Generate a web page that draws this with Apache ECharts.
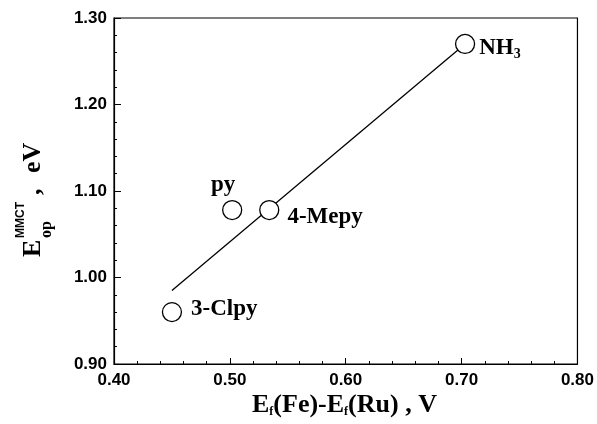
<!DOCTYPE html>
<html>
<head>
<meta charset="utf-8">
<script src="https://cdn.jsdelivr.net/npm/echarts@6/dist/echarts.min.js"></script>
<style>html,body{margin:0;padding:0;background:#fff}#c{width:597px;height:424px}</style>
</head>
<body>
<div id="c"></div>
<script>
// Data
var ligands = ['3-Clpy', 'py', '4-Mepy', 'NH3'];
var potentialDiff = [0.450, 0.502, 0.534, 0.703];   // Ef(Fe)-Ef(Ru), V
var energyMMCT = [0.960, 1.078, 1.078, 1.270];       // Eop MMCT, eV
var fitLineX = [0.450, 0.703];
var fitLineY = [0.985, 1.270];
var xTicks = [0.40, 0.50, 0.60, 0.70, 0.80];
var yTicks = [0.90, 1.00, 1.10, 1.20, 1.30];

var chart = echarts.init(document.getElementById('c'), null, {renderer: 'canvas'});

var labelCfg = {
  '3-Clpy': {position: 'right', distance: 9, offset: [0, -3]},
  'py': {position: 'top', distance: 3, offset: [-9, 0]},
  '4-Mepy': {position: 'right', distance: 8, offset: [0, 7]},
  'NH3': {position: 'right', distance: 4, offset: [0, 4]}
};

var scatterData = ligands.map(function (n, i) {
  var c = labelCfg[n];
  return {
    name: n,
    value: [potentialDiff[i], energyMMCT[i]],
    label: {
      show: true,
      position: c.position,
      distance: c.distance,
      offset: c.offset,
      formatter: n === 'NH3' ? 'NH{s|3}' : n,
      color: '#000',
      textBorderWidth: 0,
      fontFamily: 'Liberation Serif',
      fontWeight: 'bold',
      fontSize: 23,
      rich: {s: {color: '#000', fontFamily: 'Liberation Serif', fontWeight: 'bold', fontSize: 14, verticalAlign: 'bottom', padding: [13, 0, 0, 0]}}
    }
  };
});

var serif = 'Liberation Serif';
var option = {
  animation: false,
  backgroundColor: '#fff',
  grid: {left: 114, right: 16, top: 18, bottom: 60, show: true, borderColor: '#000', borderWidth: 1.2, backgroundColor: 'transparent'},
  xAxis: {
    type: 'value', min: xTicks[0], max: xTicks[xTicks.length - 1], interval: 0.1,
    axisLine: {show: true, onZero: false, lineStyle: {color: '#000', width: 1.2}},
    axisTick: {show: true, inside: true, length: 6, lineStyle: {color: '#000', width: 1}},
    minorTick: {show: true, splitNumber: 5, length: 3, lineStyle: {color: '#000', width: 1}},
    splitLine: {show: false},
    axisLabel: {margin: 8, color: '#000', fontFamily: 'Liberation Sans', fontWeight: 'bold', fontSize: 17,
      formatter: function (v) { return v.toFixed(2); }}
  },
  yAxis: {
    type: 'value', min: yTicks[0], max: yTicks[yTicks.length - 1], interval: 0.1,
    axisLine: {show: true, onZero: false, lineStyle: {color: '#000', width: 1.2}},
    axisTick: {show: true, inside: true, length: 7, lineStyle: {color: '#000', width: 1}},
    minorTick: {show: true, splitNumber: 5, length: 3, lineStyle: {color: '#000', width: 1}},
    splitLine: {show: false},
    axisLabel: {margin: 7, color: '#000', fontFamily: 'Liberation Sans', fontWeight: 'bold', fontSize: 17,
      formatter: function (v) { return v.toFixed(2); }}
  },
  series: [
    {
      type: 'line',
      data: fitLineX.map(function (x, i) { return [x, fitLineY[i]]; }),
      symbol: 'none',
      lineStyle: {color: '#000', width: 1.3},
      z: 2
    },
    {
      type: 'scatter',
      data: scatterData,
      symbol: 'circle',
      symbolSize: 19,
      itemStyle: {color: '#fff', borderColor: '#000', borderWidth: 1.3, opacity: 1},
      emphasis: {disabled: true},
      z: 3
    }
  ],
  graphic: [
    {
      type: 'text',
      left: 252, top: 392,
      style: {
        text: 'E{s|f}(Fe)-E{s|f}(Ru) , V',
        fill: '#000',
        font: 'bold 26px "Liberation Serif"',
        rich: {s: {fill: '#000', fontSize: 12, fontFamily: serif, fontWeight: 'bold', verticalAlign: 'bottom', padding: [14, 0, 0, 0]}}
      }
    },
    {
      type: 'group',
      x: 42, y: 257,
      rotation: Math.PI / 2,
      children: [
        {type: 'text', x: 0, y: -9, style: {text: 'E', fill: '#000', font: 'bold 26px "Liberation Serif"', verticalAlign: 'middle', align: 'left'}},
        {type: 'text', x: 19, y: 5, style: {text: 'op', fill: '#000', font: 'bold 16px "Liberation Serif"', verticalAlign: 'middle', align: 'left'}},
        {type: 'text', x: 19, y: -21, style: {text: 'MMCT', fill: '#000', font: 'bold 12px "Liberation Sans"', verticalAlign: 'middle', align: 'left'}},
        {type: 'text', x: 62, y: -9, style: {text: ',', fill: '#000', font: 'bold 26px "Liberation Serif"', verticalAlign: 'middle', align: 'left'}},
        {type: 'text', x: 84, y: -9, style: {text: 'eV', fill: '#000', font: 'bold 26px "Liberation Serif"', verticalAlign: 'middle', align: 'left'}}
      ]
    }
  ]
};
chart.setOption(option);
</script>
</body>
</html>
